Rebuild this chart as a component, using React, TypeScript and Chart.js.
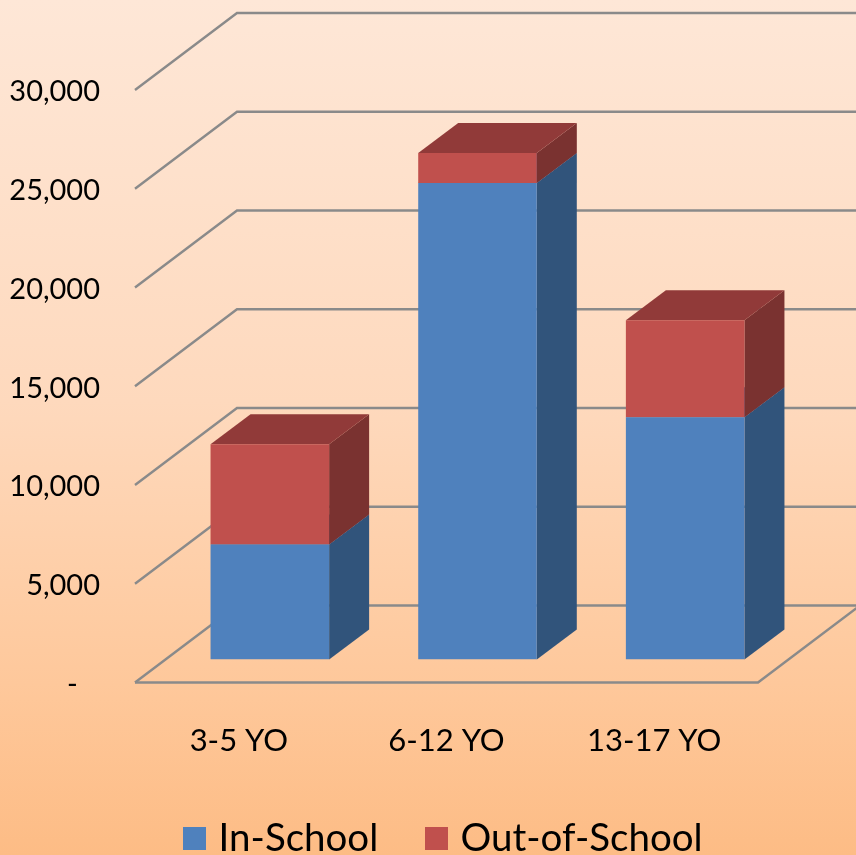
import React, { useEffect, useRef } from "react";
import { Chart, registerables } from "chart.js";

Chart.register(...registerables);

const categories = ["3-5 YO", "6-12 YO", "13-17 YO"];
const inSchool = [5828, 24122, 12264];
const outOfSchool = [5067, 1520, 4915];
const yMax = 30000;
const yStep = 5000;

const FONT = "Lato";
const INK = "#000000";
const GRID = "#8a8a8a";
const BLUE = "#4f81bd";
const RED = "#c0504d";
const SIDE = ["#31547b", "#7a3230"];
const TOP = ["#3f6797", "#913a39"];

const WALL_DX = 102;
const WALL_DY = -77;
const BAR_SHIFT_X = 31;
const BAR_SHIFT_Y = -23;
const BAR_DX = 40;
const BAR_DY = -30;
const CANVAS_W = 856;
const CANVAS_H = 868;

const poly = (ctx: CanvasRenderingContext2D, pts: number[][], fill: string) => {
  ctx.beginPath();
  pts.forEach((p, i) => (i ? ctx.lineTo(p[0], p[1]) : ctx.moveTo(p[0], p[1])));
  ctx.closePath();
  ctx.fillStyle = fill;
  ctx.fill();
};

const swatch = (color: string) => {
  const c = document.createElement("canvas");
  c.width = 23;
  c.height = 23;
  const g = c.getContext("2d")!;
  g.fillStyle = color;
  g.fillRect(0, 0, 23, 23);
  return c;
};

const threeD = {
  id: "threeD",
  beforeDatasetsDraw(chart: any) {
    const { ctx, chartArea: a, scales } = chart;
    const y = scales.y;
    ctx.save();
    ctx.strokeStyle = GRID;
    ctx.lineWidth = 2.4;
    ctx.lineJoin = "miter";
    y.ticks.forEach((t: any) => {
      const py = y.getPixelForValue(t.value);
      ctx.beginPath();
      ctx.moveTo(a.left, py);
      ctx.lineTo(a.left + WALL_DX, py + WALL_DY);
      ctx.lineTo(a.right + WALL_DX, py + WALL_DY);
      ctx.stroke();
    });
    ctx.beginPath();
    ctx.moveTo(a.left, a.bottom);
    ctx.lineTo(a.right, a.bottom);
    ctx.lineTo(a.right + WALL_DX, a.bottom + WALL_DY);
    ctx.stroke();
    ctx.restore();

    ctx.save();
    ctx.translate(BAR_SHIFT_X, BAR_SHIFT_Y);
    chart.data.datasets.forEach((_: any, d: number) => {
      const meta = chart.getDatasetMeta(d);
      meta.data.forEach((bar: any) => {
        const { x, y: top, base, width } = bar.getProps(["x", "y", "base", "width"], true);
        const r = x + width / 2;
        const l = x - width / 2;
        poly(ctx, [[r, base], [r + BAR_DX, base + BAR_DY], [r + BAR_DX, top + BAR_DY], [r, top]], SIDE[d]);
        poly(ctx, [[l, top], [r, top], [r + BAR_DX, top + BAR_DY], [l + BAR_DX, top + BAR_DY]], TOP[d]);
      });
    });
  },
  afterDatasetsDraw(chart: any) {
    chart.ctx.restore();
  },
};

export default function App() {
  const ref = useRef<HTMLCanvasElement>(null);
  useEffect(() => {
    const markers = [swatch(BLUE), swatch(RED)];
    const chart = new Chart(ref.current!, {
      type: "bar",
      data: {
        labels: categories,
        datasets: [
          { label: "In-School", data: inSchool, backgroundColor: BLUE, borderWidth: 0, barPercentage: 0.571, categoryPercentage: 1 },
          { label: "Out-of-School", data: outOfSchool, backgroundColor: RED, borderWidth: 0, barPercentage: 0.571, categoryPercentage: 1 },
        ],
      },
      options: {
        responsive: false,
        animation: false,
        layout: { padding: { left: 0, right: CANVAS_W - 758, top: 90, bottom: 0 } },
        plugins: {
          tooltip: { enabled: false },
          title: { display: false },
          legend: {
            position: "bottom",
            fullSize: false,
            labels: {
              color: INK,
              font: { family: FONT, size: 38.5 },
              usePointStyle: true,
              pointStyleWidth: 9,
              boxHeight: 23,
              padding: 54,
              generateLabels: (c: any) =>
                Chart.defaults.plugins.legend.labels.generateLabels(c).map((l: any, i: number) => ({ ...l, pointStyle: markers[i] })),
            },
          },
        },
        scales: {
          x: {
            stacked: true,
            grid: { display: false },
            border: { display: false },
            ticks: { color: INK, font: { family: FONT, size: 31 }, padding: 32, maxRotation: 0 },
            afterFit: (s: any) => { s.height = 83; },
          },
          y: {
            stacked: true,
            min: 0,
            max: yMax,
            grid: { display: false },
            border: { display: false },
            ticks: {
              stepSize: yStep,
              color: INK,
              font: { family: FONT, size: 29 },
              padding: 27,
              labelOffset: 2,
              callback: (v: any) => (v === 0 ? "-\u00a0\u00a0\u00a0" : Number(v).toLocaleString("en-US")),
            },
            afterFit: (s: any) => { s.width = 135; },
          },
        },
      },
      plugins: [threeD],
    });
    return () => chart.destroy();
  }, []);
  return (
    <div
      style={{
        position: "fixed",
        left: 0,
        top: 0,
        width: 856,
        height: 855,
        overflow: "hidden",
        background: "linear-gradient(180deg, #fee7d7 0%, #fed9bd 47%, #fec89b 80%, #fdbc85 100%)",
      }}
    >
      <canvas ref={ref} width={CANVAS_W} height={CANVAS_H} style={{ display: "block", width: CANVAS_W, height: CANVAS_H }} />
    </div>
  );
}
